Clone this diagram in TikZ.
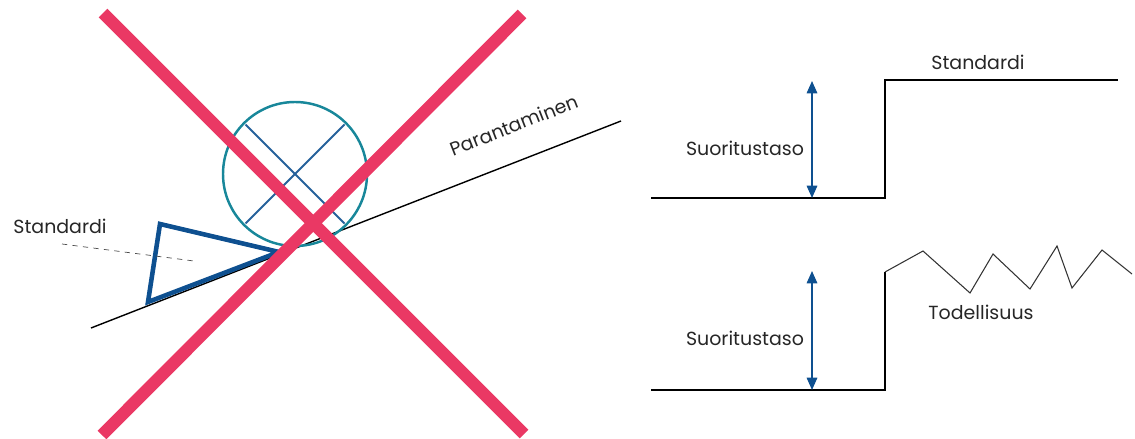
\documentclass[tikz,border=0pt]{standalone}
\usepackage{fontspec}
\setmainfont{Poppins}
\usetikzlibrary{arrows.meta, positioning}
\definecolor{crossred}{RGB}{234,56,100}
\definecolor{darkblue}{RGB}{14,80,144}
\definecolor{wheelteal}{RGB}{24,135,154}
\tikzset{
    txt/.style={
        font=\fontsize{10.8pt}{12pt}\selectfont,
        text=black!85,
        inner sep=0pt
    },
    ground/.style={
        thick,black
    },
    level/.style={
        darkblue,thick,{Triangle[length=7pt,width=6pt]}-{Triangle[length=7pt,width=6pt]}
    },
    cross/.style={
        crossred,line width=7pt
    }
}

\begin{document}
\begin{tikzpicture}[x=0.02cm,y=-0.02cm]

\useasboundingbox (0,0) rectangle (1135,439);

% left: incline
\coordinate (slopeA) at (91,328);
\coordinate (slopeB) at (621,121);
\draw [ground] (slopeA) -- (slopeB);
\node (improve) [txt, rotate=21.3] at (514,125) {Parantaminen};

\coordinate (wedgeTop) at (160,224);
\coordinate (wedgeBot) at (148,302);
\coordinate (wedgeTip) at (279,252);
\draw [darkblue, line width=2.6pt, line join=miter] (wedgeTop) -- (wedgeBot) -- (wedgeTip) -- cycle;

\node (stdLeft) [txt] at (60,226) {Standardi};
\coordinate (dashA) at (62,244);
\coordinate (dashB) at (194,261);
\draw [black!70, dashed] (dashA) -- (dashB);

\coordinate (wheel) at (295,174);
\draw [wheelteal, line width=1.4pt] (wheel) circle [radius=72];
\draw [darkblue!90!white, line width=1.1pt] (wheel) ++(135:70) -- ++(-45:140);
\draw [darkblue!90!white, line width=1.1pt] (wheel) ++(45:70) -- ++(-135:140);

% big cross
\coordinate (xA) at (103,13);
\coordinate (xB) at (524,434);
\coordinate (xC) at (522,14);
\coordinate (xD) at (102,435);
\draw [cross] (xA) -- (xB);
\draw [cross] (xC) -- (xD);

% right: standard step
\coordinate (stepA) at (651,198);
\coordinate (stepB) at (885,198);
\coordinate (stepC) at (885,80);
\coordinate (stepD) at (1118,80);
\draw [ground, line join=miter] (stepA) -- (stepB) -- (stepC) -- (stepD);
\node (stdRight) [txt] at (978,62) {Standardi};
\coordinate (levelTop) at (812,81);
\coordinate (levelBot) at (812,198);
\draw [level] (levelBot) -- (levelTop);
\node (perfTop) [txt] at (745,148) {Suoritustaso};

% right: reality
\coordinate (realA) at (651,390);
\coordinate (realB) at (885,390);
\coordinate (realC) at (885,272);
\draw [ground, line join=miter] (realA) -- (realB) -- (realC);
\draw [black!80, semithick] (realC) -- (923,251) -- (970,293) -- (993,254) -- (1030,289)
    -- (1057,246) -- (1072,288) -- (1102,250) -- (1132,274);
\node (reality) [txt] at (981,312) {Todellisuus};
\coordinate (realTop) at (812,271);
\coordinate (realBot) at (812,390);
\draw [level] (realBot) -- (realTop);
\node (perfBot) [txt] at (745,338) {Suoritustaso};

\end{tikzpicture}
\end{document}
